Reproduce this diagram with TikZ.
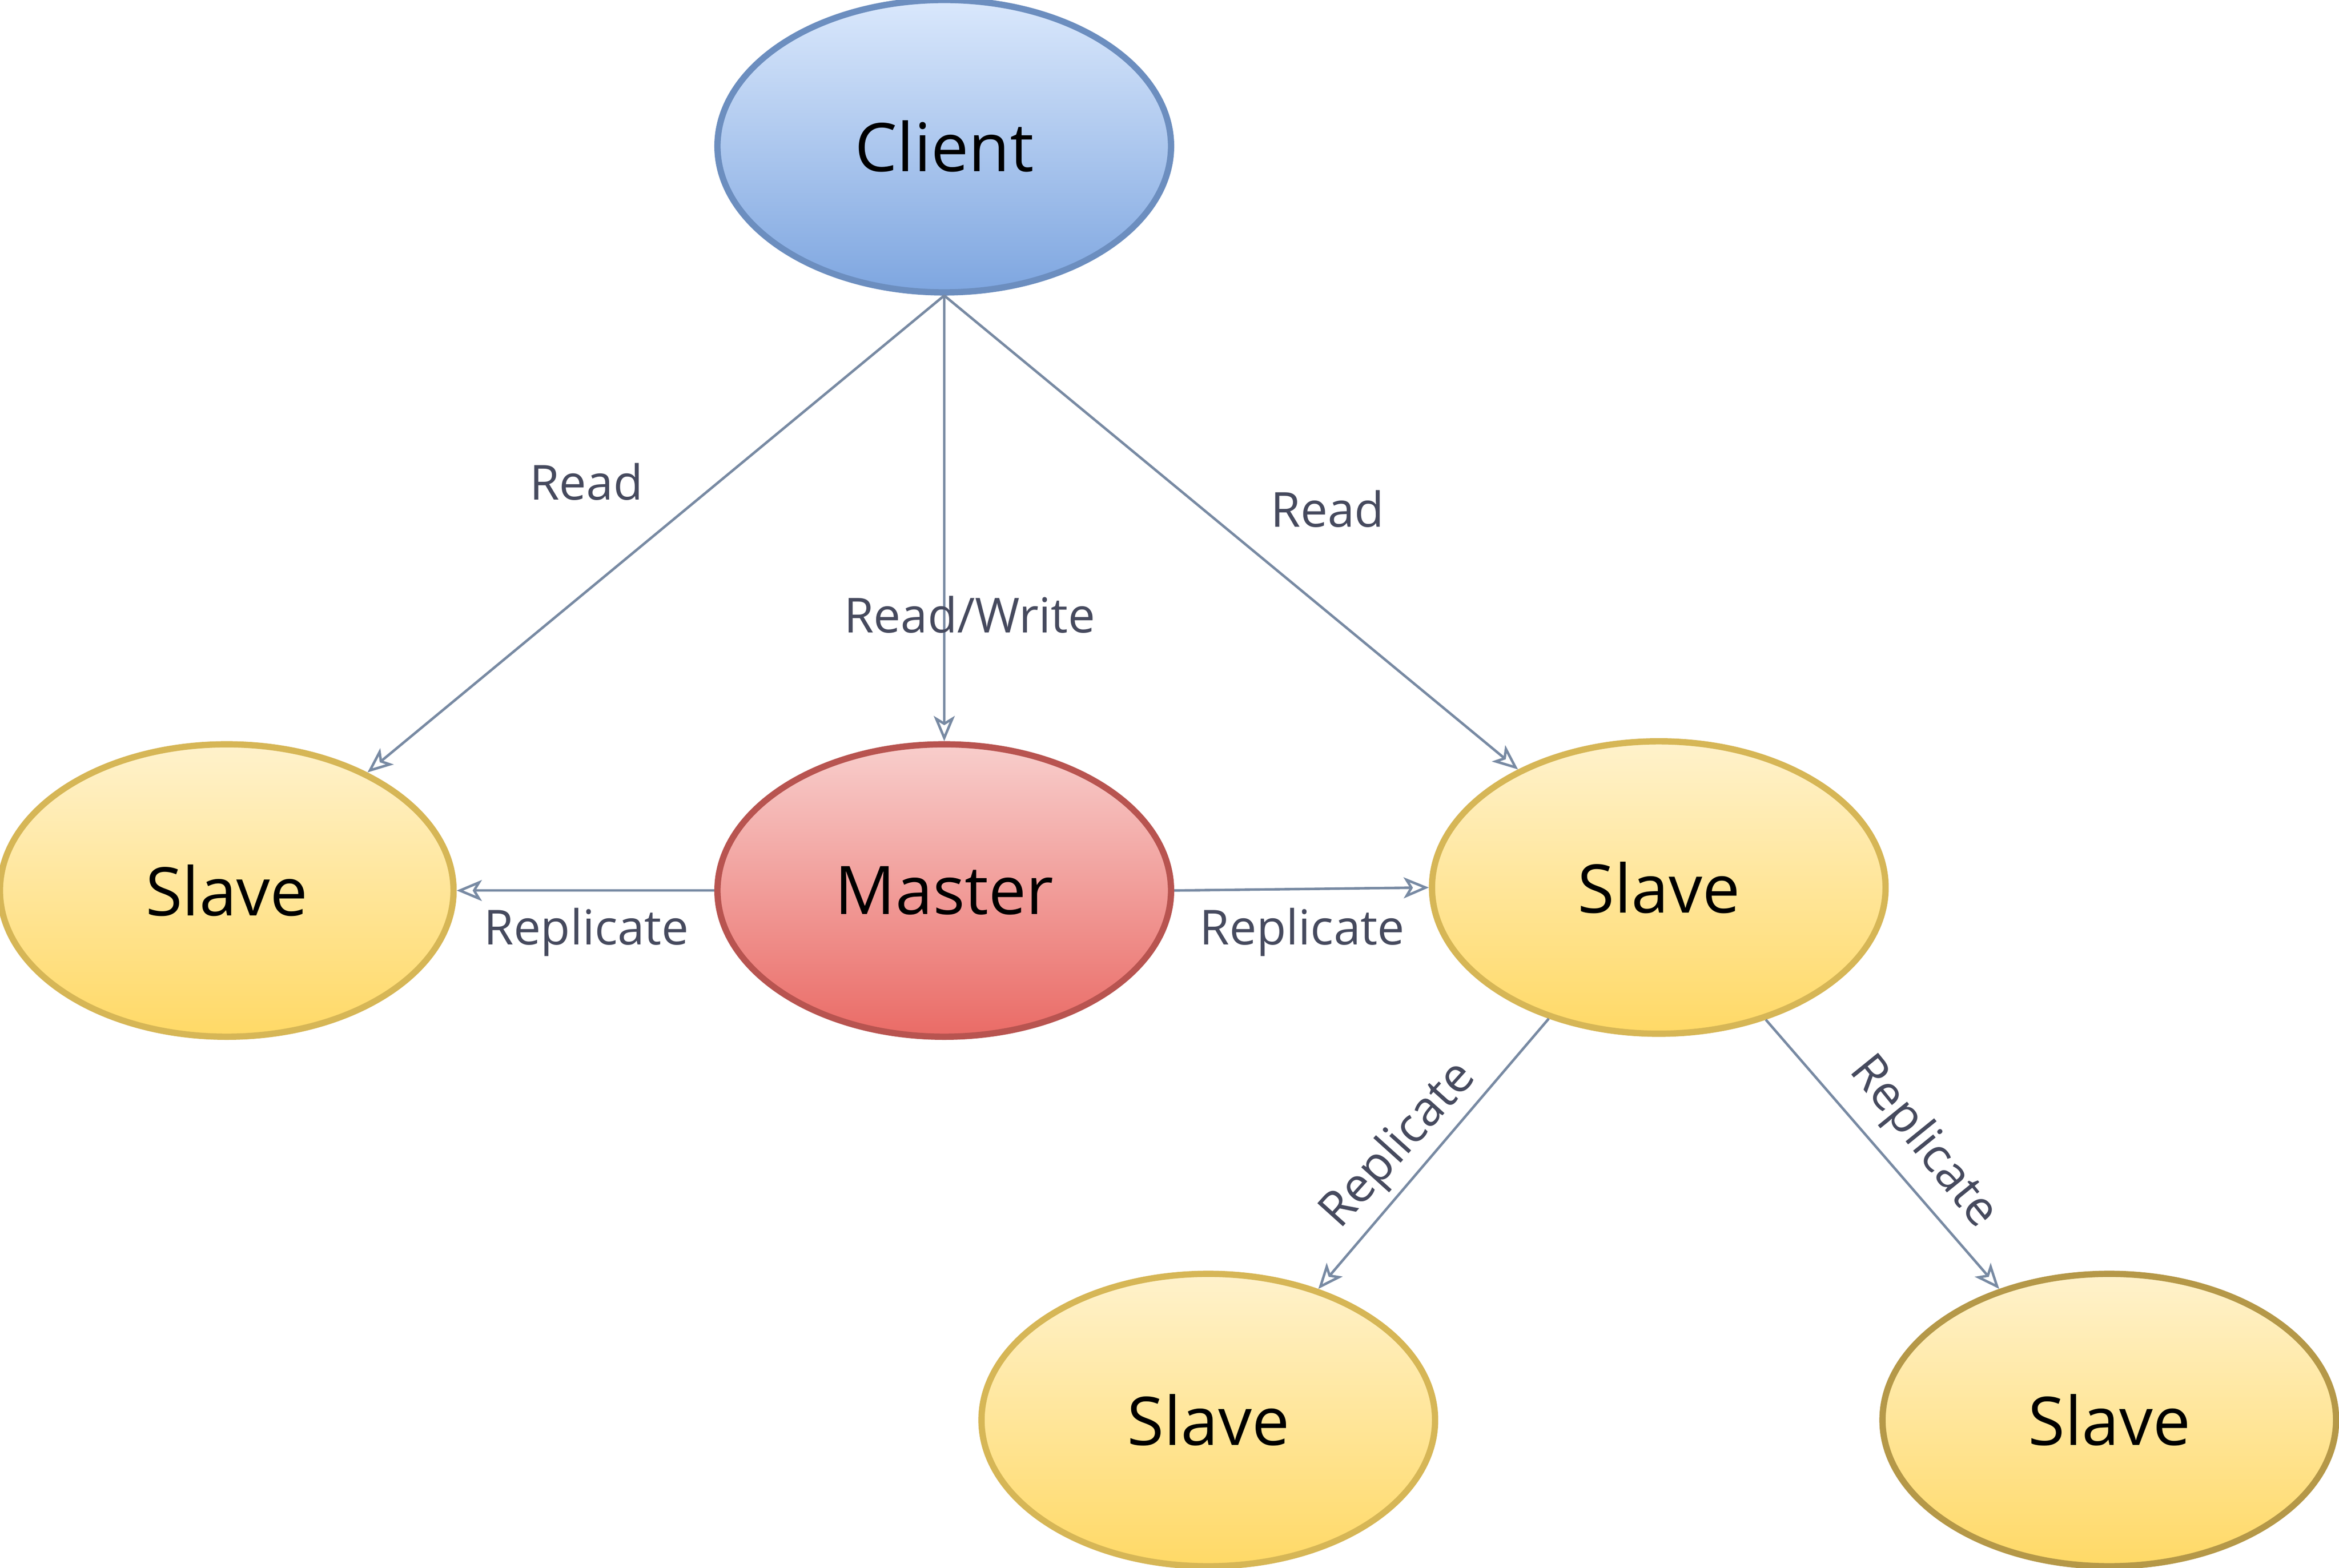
\documentclass[tikz,border=0pt]{standalone}
\usepackage{fontspec}
\setmainfont{Open Sans}
\usetikzlibrary{shapes.geometric,arrows.meta}
\definecolor{clientfillT}{HTML}{DAE8FC}
\definecolor{clientfillB}{HTML}{7EA6E0}
\definecolor{clientline}{HTML}{6C8EBF}
\definecolor{masterfillT}{HTML}{F8CECC}
\definecolor{masterfillB}{HTML}{EA6B66}
\definecolor{masterline}{HTML}{B85450}
\definecolor{slavefillT}{HTML}{FFF2CC}
\definecolor{slavefillB}{HTML}{FFD966}
\definecolor{slaveline}{HTML}{D6B656}
\definecolor{slavelinedark}{HTML}{B59848}
\definecolor{edgecol}{HTML}{788AA3}
\definecolor{labelcol}{HTML}{464A5E}
\tikzset{
  bubble/.style={ellipse, minimum width=7.6cm, minimum height=4.9cm, inner sep=0pt,
    line width=3pt, font=\fontsize{32}{38}\selectfont, text=black},
  clientnode/.style={bubble, draw=clientline, top color=clientfillT, bottom color=clientfillB},
  masternode/.style={bubble, draw=masterline, top color=masterfillT, bottom color=masterfillB},
  slavenode/.style={bubble, draw=slaveline, top color=slavefillT, bottom color=slavefillB},
  conn/.style={draw=edgecol, line width=1.2pt, -{Stealth[open, length=12pt, width=10pt, inset=3pt]}},
  lbl/.style={font=\fontsize{23}{28}\selectfont, text=labelcol, inner sep=0pt}
}
\begin{document}
\begin{tikzpicture}[x=0.025cm, y=-0.025cm]
\useasboundingbox (0,0) rectangle (1568,1051);
\node[clientnode] (client) at (633,98) {Client};
\node[slavenode] (sl) at (152,597) {Slave};
\node[masternode] (master) at (633,597) {Master};
\node[slavenode] (sr) at (1112,595) {Slave};
\node[slavenode] (sbl) at (810,952) {Slave};
\node[slavenode, draw=slavelinedark] (sbr) at (1414,952) {Slave};

\draw[conn] (client.south) -- (sl.40);
\draw[conn] (client.south) -- (master.north);
\draw[conn] (client.south) -- (sr.140);
\draw[conn] (master.west) -- (sl.east);
\draw[conn] (master.east) -- (sr.west);
\draw[conn] (sr.230) -- (sbl.50);
\draw[conn] (sr.-51) -- (sbr.130);

\node[lbl] (l1) at (393,323) {Read};
\node[lbl] (l2) at (650,412) {Read/Write};
\node[lbl] (l3) at (890,341) {Read};
\node[lbl] (l4) at (393,625) {Replicate};
\node[lbl] (l5) at (873,625) {Replicate};
\node[lbl, rotate=48] (l6) at (938,768) {Replicate};
\node[lbl, rotate=-51] (l7) at (1289,766) {Replicate};
\end{tikzpicture}
\end{document}
